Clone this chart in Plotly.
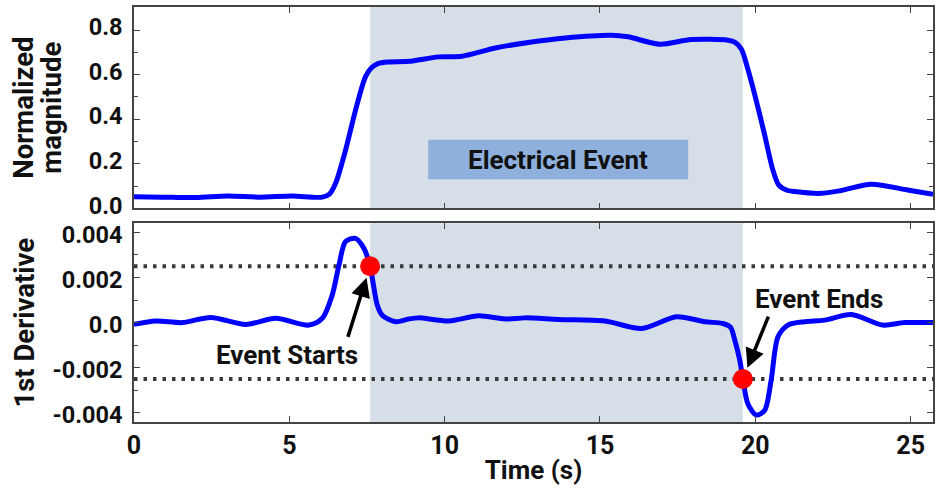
import plotly.graph_objects as go

# Normalized magnitude of the signal over time
time_mag = [0.0, 0.92, 1.99, 3.01, 4.03, 5.1, 6.06, 6.3, 6.49, 6.81, 7.13, 7.45, 7.65, 7.85, 8.2,
            8.84, 9.8, 10.56, 11.63, 12.8, 13.88, 15.37, 15.9, 16.93, 17.94, 19.12, 19.35,
            19.55, 19.75, 20.0, 20.3, 20.55, 20.75, 21.0, 21.27, 22.12, 22.77, 23.73, 24.9, 25.72]
magnitude = [0.052, 0.05, 0.048, 0.055, 0.05, 0.055, 0.05, 0.065, 0.112, 0.261, 0.44, 0.59, 0.632, 0.65, 0.657,
             0.66, 0.68, 0.683, 0.72, 0.747, 0.765, 0.777, 0.77, 0.737, 0.758, 0.755, 0.745,
             0.715, 0.63, 0.5, 0.33, 0.18, 0.105, 0.082, 0.075, 0.067, 0.08, 0.108, 0.082, 0.063]

# First derivative of the magnitude
time_der = [0.0, 0.71, 1.56, 2.47, 3.6, 4.56, 5.63, 6.06, 6.38, 6.6, 6.81, 7.13, 7.4, 7.6, 7.83,
            7.99, 8.42, 8.84, 9.16, 10.13, 11.09, 11.95, 12.59, 13.66, 15.16, 16.34, 17.46,
            18.37, 18.96, 19.2, 19.34, 19.5, 19.6, 19.76, 20.03, 20.3, 20.51, 20.73, 21.05,
            21.59, 22.23, 23.09, 24.1, 24.8, 25.72]
derivative = [-0.00008, 0.00007, 0.0, 0.00023, -0.00008, 0.00019, -0.00011, 0.00019, 0.00122,
              0.00256, 0.0036, 0.00374, 0.0033, 0.0025, 0.00078, 0.00033, 0.00004, 0.00016,
              0.00021, 0.00007, 0.0003, 0.00016, 0.00021, 0.00014, 0.00007, -0.00026, 0.00026,
              0.00004, -0.00004, -0.0002, -0.00078, -0.00167, -0.0025, -0.0036, -0.0041, -0.0039,
              -0.00256, -0.00063, -0.00011, 0.00004, 0.00011, 0.00036, -0.00011, 0.0, 0.0]

# Detection threshold and detected event boundaries
threshold = 0.0025
event_times = [7.6, 19.6]
event_values = [threshold, -threshold]
event_labels = ["Event Starts", "Event Ends"]
label_pos_t = [4.92, 22.04]
label_pos_v = [-0.00144, 0.00104]
arrow_tail_t = [6.87, 20.44]
arrow_tail_v = [-0.0007, 0.00033]

# Label box for the event window in the magnitude panel
box_t = [9.47, 17.84]
box_v = [0.13, 0.308]
box_text = "Electrical Event"

x_range = [0, 25.72]
x_ticks = [0, 5, 10, 15, 20, 25]
mag_ticks = [0.0, 0.2, 0.4, 0.6, 0.8]
der_ticks = [-0.004, -0.002, 0.0, 0.002, 0.004]
der_tick_text = ["-0.004", "-0.002", "0.0", "0.002", "0.004"]

FONT = "Roboto"
AXIS_COLOR = "#444444"
BLUE = "#0000FF"
SHADE = "#D6DFE8"
TEXT = "#111111"

fig = go.Figure()

# Threshold lines
for v in (threshold, -threshold):
    fig.add_trace(go.Scatter(x=x_range, y=[v, v], mode="lines", xaxis="x2", yaxis="y2",
                             line=dict(color="#3a3a3a", width=4, dash="3.5px,6px"),
                             hoverinfo="skip", showlegend=False))

fig.add_trace(go.Scatter(x=time_mag, y=magnitude, mode="lines", xaxis="x", yaxis="y",
                         line=dict(color=BLUE, width=5, shape="spline", smoothing=0.8),
                         showlegend=False))
fig.add_trace(go.Scatter(x=time_der, y=derivative, mode="lines", xaxis="x2", yaxis="y2",
                         line=dict(color=BLUE, width=5, shape="spline", smoothing=0.8),
                         showlegend=False))
fig.add_trace(go.Scatter(x=event_times, y=event_values, mode="markers", xaxis="x2", yaxis="y2",
                         marker=dict(color="#FF0000", size=20, line=dict(width=0)),
                         showlegend=False))

# Event window shading in both panels
for xref, yref in (("x", "y domain"), ("x2", "y2 domain")):
    fig.add_shape(type="rect", xref=xref, yref=yref, x0=event_times[0], x1=event_times[1],
                  y0=0, y1=1, fillcolor=SHADE, line=dict(width=0), layer="below")

fig.add_shape(type="rect", xref="x", yref="y", x0=box_t[0], x1=box_t[1], y0=box_v[0], y1=box_v[1],
              fillcolor="#8FB0DC", line=dict(width=0), layer="below")
fig.add_annotation(x=sum(box_t) / 2, y=sum(box_v) / 2, xref="x", yref="y", text=box_text,
                   showarrow=False, font=dict(family=FONT, size=26, color=TEXT, weight="bold"))

for i in range(2):
    fig.add_annotation(x=label_pos_t[i], y=label_pos_v[i], xref="x2", yref="y2", text=event_labels[i],
                       showarrow=False, font=dict(family=FONT, size=26, color=TEXT, weight="bold"))
    fig.add_annotation(x=event_times[i], y=event_values[i], xref="x2", yref="y2", text="",
                       showarrow=True, axref="x2", ayref="y2", ax=arrow_tail_t[i], ay=arrow_tail_v[i],
                       arrowhead=2, arrowsize=1.1, arrowwidth=3.5, arrowcolor="#000000", standoff=12)

# Axis titles for the two panels
title_font = dict(family=FONT, size=27.5, color=TEXT, weight="bold")
top_mid = (0.515 + 1) / 2
bot_mid = 0.479 / 2
for text, shift, ymid in (("Normalized", -110, top_mid), ("magnitude", -82, top_mid),
                          ("1st Derivative", -109, bot_mid)):
    fig.add_annotation(x=0, y=ymid, xref="paper", yref="paper", text=text, textangle=-90,
                       xanchor="center", yanchor="middle", xshift=shift, showarrow=False,
                       font=title_font)

tick_font = dict(family=FONT, size=23.5, color=TEXT, weight="bold")
xtick_font = dict(family=FONT, size=25, color=TEXT, weight="bold")

x_common = dict(range=x_range, tickvals=x_ticks, showline=True, linecolor=AXIS_COLOR, linewidth=1.5,
                mirror="ticks", ticks="inside", ticklen=6, tickcolor=AXIS_COLOR, tickwidth=1,
                showgrid=False, zeroline=False, tickfont=xtick_font)
y_common = dict(showline=True, linecolor=AXIS_COLOR, linewidth=1.5, mirror="ticks", ticks="inside",
                ticklen=6, tickcolor=AXIS_COLOR, tickwidth=1, showgrid=False, zeroline=False,
                tickfont=tick_font, ticklabelstandoff=5)

fig.update_layout(
    width=937, height=491,
    margin=dict(l=134, r=2, t=7, b=69),
    paper_bgcolor="white", plot_bgcolor="white",
    showlegend=False,
    xaxis=dict(x_common, domain=[0, 1], anchor="y", showticklabels=False, matches="x2"),
    xaxis2=dict(x_common, domain=[0, 1], anchor="y2",
                title=dict(text="Time (s)", font=dict(family=FONT, size=26, color=TEXT, weight="bold"),
                           standoff=2)),
    yaxis=dict(y_common, domain=[0.515, 1], range=[0, 0.904], tickvals=mag_ticks, tickformat=".1f",
               ticklabelshift=-3,
               minor=dict(dtick=0.1, ticks="inside", ticklen=4, tickcolor=AXIS_COLOR)),
    yaxis2=dict(y_common, domain=[0, 0.479], range=[-0.00441, 0.00441], tickvals=der_ticks,
                ticktext=der_tick_text, ticklabelshift=2,
                minor=dict(dtick=0.001, ticks="inside", ticklen=4, tickcolor=AXIS_COLOR)),
)

fig.write_html("out.html")
